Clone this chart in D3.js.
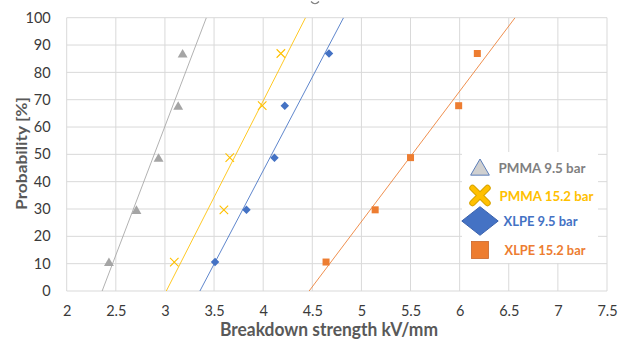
<!DOCTYPE html>
<html><head><meta charset="utf-8">
<script src="https://cdn.jsdelivr.net/npm/d3@7"></script>
<style>body{margin:0;background:#fff}svg{display:block}text{font-family:Lato,"Open Sans",sans-serif}</style>
</head><body>
<svg id="c" width="627" height="343"></svg>
<script>
// ---- data ----
const xTicks = [2,2.5,3,3.5,4,4.5,5,5.5,6,6.5,7,7.5];
const yTicks = [0,10,20,30,40,50,60,70,80,90,100];
const probs = [10.6,29.7,48.8,67.8,86.9];
const pmma95 = [2.43,2.71,2.935,3.135,3.18];
const pmma152 = [3.095,3.60,3.66,3.99,4.18];
const xlpe95 = [3.51,3.83,4.115,4.22,4.67];
const xlpe152 = [4.64,5.14,5.50,5.99,6.18];
const seriesNames = ["PMMA 9.5 bar","PMMA 15.2 bar","XLPE 9.5 bar","XLPE 15.2 bar"];
const seriesColors = ["#A5A5A5","#FFC000","#4472C4","#ED7D31"];
const seriesShapes = ["triangle","cross","diamond","square"];
const xTitle = "Breakdown strength kV/mm";
const yTitle = "Probability [%]";

const seriesData = [pmma95,pmma152,xlpe95,xlpe152];
const svg = d3.select("#c");
const x = d3.scaleLinear().domain([2,7.5]).range([66.7,607]);
const y = d3.scaleLinear().domain([0,100]).range([291,17.7]);

// grid
svg.append("g").selectAll("line").data(xTicks).join("line")
  .attr("x1",d=>x(d)).attr("x2",d=>x(d)).attr("y1",y(0)).attr("y2",y(100))
  .attr("stroke","#d9d9d9").attr("stroke-width",1);
svg.append("g").selectAll("line").data(yTicks).join("line")
  .attr("x1",x(2)).attr("x2",x(7.5)).attr("y1",d=>y(d)).attr("y2",d=>y(d))
  .attr("stroke","#d9d9d9").attr("stroke-width",1);

// axes labels via d3 axes
const xAxis = svg.append("g").attr("transform",`translate(0,${y(0)})`)
  .call(d3.axisBottom(x).tickValues(xTicks).tickSize(0).tickPadding(15).tickFormat(d=>String(d)));
const yAxis = svg.append("g").attr("transform",`translate(${x(2)},0)`)
  .call(d3.axisLeft(y).tickValues(yTicks).tickSize(0).tickPadding(16).tickFormat(d=>String(d)));
[xAxis,yAxis].forEach(a=>{a.select(".domain").remove();
  a.selectAll("text").attr("font-size",14.5).attr("fill","#3a3a3a").attr("font-family","Lato,sans-serif");});

// trendlines (least squares regression)
function regress(xs){
  const mx=d3.mean(xs), my=d3.mean(probs);
  let sxy=0,sxx=0; xs.forEach((v,i)=>{sxy+=(v-mx)*(probs[i]-my);sxx+=(v-mx)*(v-mx);});
  const m=sxy/sxx; const b=my-m*mx;
  return p=>(p-b)/m;
}
svg.append("clipPath").attr("id","pc").append("rect")
  .attr("x",x(2)).attr("y",y(100)).attr("width",x(7.5)-x(2)).attr("height",y(0)-y(100));
const tl = svg.append("g").attr("clip-path","url(#pc)");
seriesData.forEach((xs,i)=>{
  const f=regress(xs);
  tl.append("line").attr("x1",x(f(0))).attr("y1",y(0)).attr("x2",x(f(100))).attr("y2",y(100))
    .attr("stroke",seriesColors[i]).attr("stroke-width",1).attr("opacity",0.85);
});

// markers
function drawMarker(g,shape,cx,cy,s,color,legend){
  if(shape==="triangle"){
    g.append("path").attr("d",`M${cx},${cy-s*0.5}L${cx+s*0.55},${cy+s*0.45}L${cx-s*0.55},${cy+s*0.45}Z`)
     .attr("fill",legend?"#D0D0D0":color).attr("stroke",legend?"#5B7DB8":"none").attr("stroke-width",1);
  } else if(shape==="cross"){
    const h=s/2;
    if(legend){
      g.append("path").attr("d",`M${cx-h},${cy-h}L${cx+h},${cy+h}M${cx+h},${cy-h}L${cx-h},${cy+h}`)
       .attr("stroke","#D9A400").attr("stroke-width",6.5).attr("stroke-linecap","round");
      g.append("path").attr("d",`M${cx-h},${cy-h}L${cx+h},${cy+h}M${cx+h},${cy-h}L${cx-h},${cy+h}`)
       .attr("stroke",color).attr("stroke-width",4.5).attr("stroke-linecap","round");
    } else {
      g.append("path").attr("d",`M${cx-h},${cy-h}L${cx+h},${cy+h}M${cx+h},${cy-h}L${cx-h},${cy+h}`)
       .attr("stroke",color).attr("stroke-width",1.1);
    }
  } else if(shape==="diamond"){
    const w=legend?s*0.7:s*0.5, hh=legend?s*0.55:s*0.5;
    g.append("path").attr("d",`M${cx},${cy-hh}L${cx+w},${cy}L${cx},${cy+hh}L${cx-w},${cy}Z`)
     .attr("fill",color).attr("stroke",legend?"#3a62ad":"none");
  } else {
    g.append("rect").attr("x",cx-s/2).attr("y",cy-s/2).attr("width",s).attr("height",s)
     .attr("fill",color).attr("stroke",legend?"#c9662a":"none").attr("stroke-width",0.8);
  }
}
const mg = svg.append("g");
const msize=[9,8.5,8.5,7];
seriesData.forEach((xs,i)=>{
  xs.forEach((v,j)=>drawMarker(mg,seriesShapes[i],x(v),y(probs[j]),msize[i],seriesColors[i],false));
});

// legend
const lg = svg.append("g");
lg.append("rect").attr("x",462).attr("y",152).attr("width",136).attr("height",111).attr("fill","#fff");
const legY=[167.5,195.5,221,250], legTX=[498.5,499.5,503.5,504.5], legW=[87,94,74,81];
const legSize=[17,15,26,17];
seriesNames.forEach((n,i)=>{
  drawMarker(lg,seriesShapes[i],480,legY[i],legSize[i],seriesColors[i],true);
  lg.append("text").attr("x",legTX[i]).attr("y",legY[i]).attr("dy","0.36em")
    .attr("font-size",14).attr("font-weight","bold").attr("fill",i===0?"#7F7F7F":seriesColors[i])
    .attr("textLength",legW[i]).attr("lengthAdjust","spacingAndGlyphs").text(n);
});

// titles
svg.append("text").attr("x",329).attr("y",336).attr("text-anchor","middle")
  .attr("font-size",18).attr("font-weight","bold").attr("fill","#595959")
  .attr("textLength",218).attr("lengthAdjust","spacingAndGlyphs").text(xTitle);
svg.append("text").attr("transform","translate(27,153.5) rotate(-90)").attr("text-anchor","middle")
  .attr("font-size",16).attr("font-weight","bold").attr("fill","#595959")
  .attr("textLength",113).attr("lengthAdjust","spacingAndGlyphs").text(yTitle);
// clipped title remnant
svg.append("path").attr("d","M311,1.5 Q315,6 319,1.5").attr("fill","none").attr("stroke","#7f7f7f").attr("stroke-width",1.2);
</script>
</body></html>
